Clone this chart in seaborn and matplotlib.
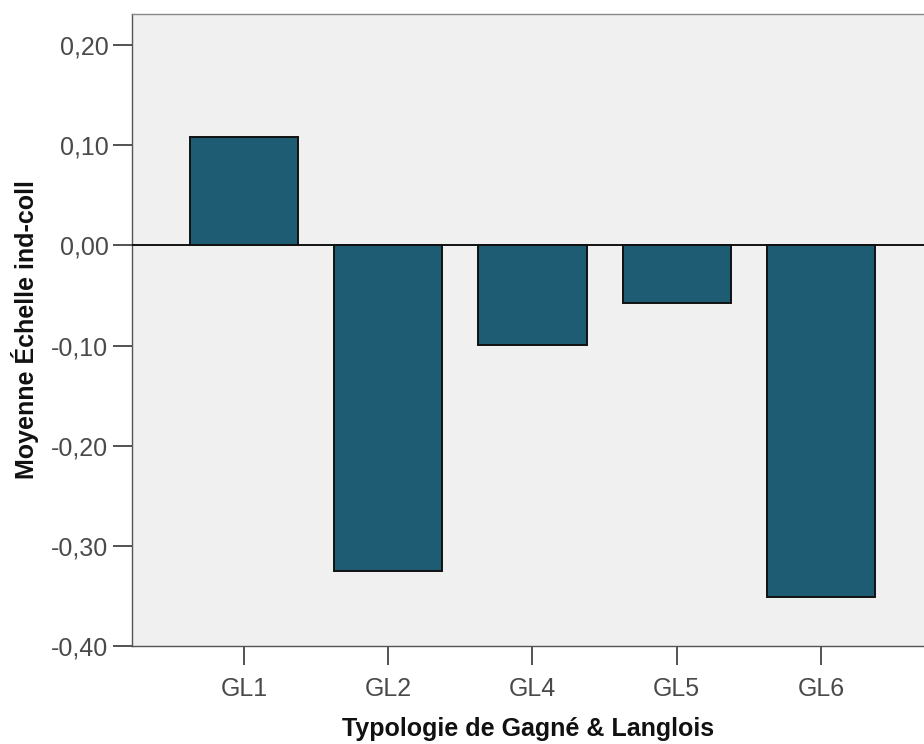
import matplotlib
matplotlib.use("Agg")
import matplotlib.pyplot as plt
import seaborn as sns
import pandas as pd
from matplotlib.ticker import FuncFormatter

# data
categories = ["GL1", "GL2", "GL4", "GL5", "GL6"]
means = [0.108, -0.325, -0.099, -0.058, -0.351]
yticks = [0.20, 0.10, 0.00, -0.10, -0.20, -0.30, -0.40]

BAR_COLOR = "#1D5C73"
BG = "#F0F0F0"

sns.set_theme(style="white")
plt.rcParams["font.family"] = ["Liberation Sans", "DejaVu Sans"]

df = pd.DataFrame({"cat": categories, "mean": means})

fig = plt.figure(figsize=(9.24, 7.44), dpi=100)
ax = fig.add_axes([132 / 924, 98 / 744, 1 - 132 / 924, (646 - 14) / 744])
ax.set_facecolor(BG)

sns.barplot(data=df, x="cat", y="mean", color=BAR_COLOR, saturation=1,
            width=0.75, edgecolor="#111111", linewidth=1.4, ax=ax)

# zero reference line
ax.axhline(0, color="#111111", linewidth=1.4, zorder=3)

ax.set_ylim(-0.40, 0.231)
ax.set_xlim(-0.776, 4.714)
ax.set_yticks(yticks)
ax.yaxis.set_major_formatter(FuncFormatter(lambda v, _: f"{v:.2f}".replace(".", ",").replace("-0,00", "0,00")))

for side in ["left", "bottom", "top"]:
    ax.spines[side].set_visible(True)
    ax.spines[side].set_linewidth(1.0)
ax.spines["left"].set_color("#555555")
ax.spines["bottom"].set_color("#555555")
ax.spines["top"].set_color("#888888")
ax.spines["right"].set_visible(False)

ax.tick_params(axis="both", which="major", direction="out", length=14, width=1.3,
               color="#444444", labelcolor="#4A4A4A", labelsize=18,
               bottom=True, left=True, top=False, right=False)
ax.tick_params(axis="y", pad=3)
ax.tick_params(axis="x", pad=8)

ax.set_xlabel("Typologie de Gagné & Langlois", fontsize=18, fontweight="bold",
              color="#111111", labelpad=12)
ax.set_ylabel("Moyenne Échelle ind-coll", fontsize=18, fontweight="bold",
              color="#111111", labelpad=9)

fig.savefig("out.png", dpi=100, facecolor="white")
plt.close(fig)
